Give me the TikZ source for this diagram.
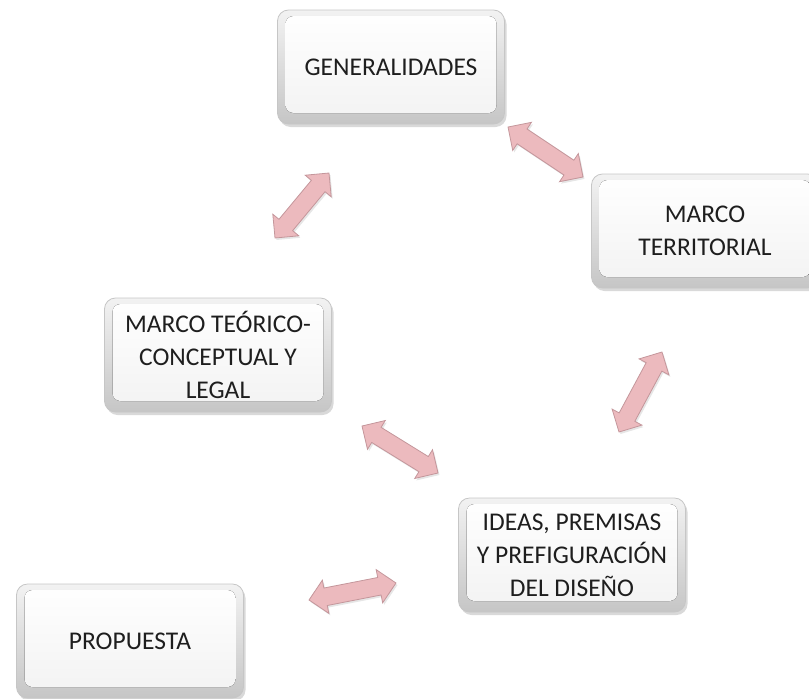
\documentclass[tikz,border=0pt]{standalone}
\usepackage{fontspec}
\setmainfont{Carlito}
\usetikzlibrary{calc,shapes.arrows,shadows}
\definecolor{arrfill}{RGB}{236,186,190}
\definecolor{arrline}{RGB}{196,150,155}
\definecolor{txt}{RGB}{30,30,30}
\newcommand\bidiarrow[2]{%
  \path let \p1=(#1), \p2=(#2),
    \n1={atan2(\y2-\y1,\x2-\x1)},
    \n2={veclen(\x2-\x1,\y2-\y1)} in
    node[dblarr, minimum height=\n2, rotate=\n1] at ($(#1)!0.5!(#2)$) {};}
\tikzset{
  boxnode/.style={rounded corners=11pt, minimum width=227pt, minimum height=114pt,
    draw=gray!45, line width=0.8pt, top color=gray!10, bottom color=gray!45,
    drop shadow={shadow xshift=2pt, shadow yshift=-3pt, opacity=0.3},
    font=\fontsize{25.5}{33}\selectfont, text=txt, align=center,
    path picture={
      \fill[rounded corners=8pt, top color=white, bottom color=gray!10]
        ([shift={(8pt,-6pt)}]path picture bounding box.north west) rectangle
        ([shift={(-8pt,11pt)}]path picture bounding box.south east);
    }},
  dblarr/.style={double arrow, draw=arrline, fill=arrfill, line width=0.8pt,
    inner xsep=0pt, inner ysep=8.5pt, minimum width=33pt, double arrow head extend=8pt,
    double arrow head indent=0pt,
    drop shadow={shadow xshift=1.5pt, shadow yshift=-2pt, opacity=0.2}}
}
\begin{document}
\begin{tikzpicture}[x=1pt,y=-1pt]
\useasboundingbox (0,0) rectangle (809,699);
\begin{scope}
\clip (0,0) rectangle (809,699);
\node[boxnode] (gen) at (391,67) {GENERALIDADES};
\node[boxnode] (mt) at (705,231) {MARCO\\TERRITORIAL};
\node[boxnode] (mtc) at (218,355) {MARCO TEÓRICO-\\CONCEPTUAL Y\\LEGAL};
\node[boxnode] (ideas) at (572,555) {IDEAS, PREMISAS\\Y PREFIGURACIÓN\\DEL DISEÑO};
\node[boxnode] (prop) at (130,641) {PROPUESTA};

\coordinate (a1s) at (508,127);
\coordinate (a1e) at (583,177);
\coordinate (a2s) at (275,238);
\coordinate (a2e) at (329,173);
\coordinate (a3s) at (619,432);
\coordinate (a3e) at (662,352);
\coordinate (a4s) at (362,426);
\coordinate (a4e) at (438,473);
\coordinate (a5s) at (309,600);
\coordinate (a5e) at (396,583);
\bidiarrow{a1s}{a1e}
\bidiarrow{a2s}{a2e}
\bidiarrow{a3s}{a3e}
\bidiarrow{a4s}{a4e}
\bidiarrow{a5s}{a5e}
\end{scope}
\end{tikzpicture}
\end{document}
